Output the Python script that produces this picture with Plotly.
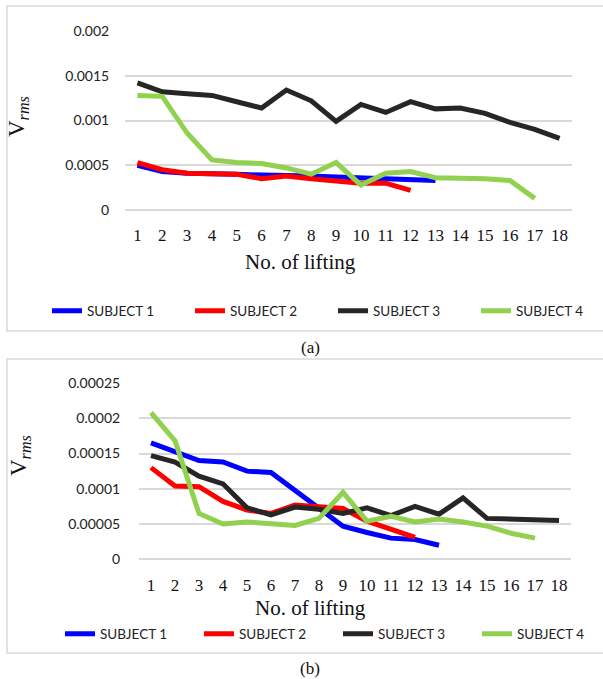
import plotly.graph_objects as go

lifts = [str(i) for i in range(1, 19)]
names = ["SUBJECT 1", "SUBJECT 2", "SUBJECT 3", "SUBJECT 4"]
colors = ["#0000FF", "#FF0000", "#262626", "#92D050"]

# Panel (a)
a_s1 = [0.00050, 0.00043, 0.00041, 0.00041, 0.00040, 0.00039, 0.00039, 0.00038, 0.00037,
        0.00036, 0.00035, 0.00035, 0.00033]
a_s2 = [0.00053, 0.00045, 0.00041, 0.00040, 0.00040, 0.00035, 0.00038, 0.00035, 0.00033,
        0.00030, 0.00030, 0.00022]
a_s3 = [0.00142, 0.00132, 0.00130, 0.00128, 0.00121, 0.00114, 0.00134, 0.00122, 0.00099,
        0.00118, 0.00109, 0.00121, 0.00113, 0.00114, 0.00108, 0.00098, 0.00090, 0.00080]
a_s4 = [0.00128, 0.00127, 0.00086, 0.00056, 0.00053, 0.00052, 0.00047, 0.00040, 0.00053,
        0.00028, 0.00041, 0.00043, 0.00036, 0.00036, 0.00035, 0.00033, 0.00013]

# Panel (b)
b_s1 = [0.000165, 0.000153, 0.000140, 0.000138, 0.000125, 0.000123, 0.000097, 0.000072,
        0.000047, 0.000038, 0.000030, 0.000028, 0.000020]
b_s2 = [0.000130, 0.000104, 0.000103, 0.000082, 0.000070, 0.000065, 0.000077, 0.000074,
        0.000072, 0.000054, 0.000043, 0.000031]
b_s3 = [0.000147, 0.000138, 0.000118, 0.000107, 0.000073, 0.000063, 0.000074, 0.000071,
        0.000065, 0.000073, 0.000062, 0.000075, 0.000064, 0.000087, 0.000058, 0.000057,
        0.000056, 0.000055]
b_s4 = [0.000208, 0.000168, 0.000065, 0.000050, 0.000053, 0.000050, 0.000048, 0.000058,
        0.000095, 0.000054, 0.000061, 0.000053, 0.000057, 0.000053, 0.000047, 0.000037,
        0.000030]

a_ticks = [0, 0.0005, 0.001, 0.0015, 0.002]
a_ticktext = ["0", "0.0005", "0.001", "0.0015", "0.002"]
b_ticks = [0, 0.00005, 0.0001, 0.00015, 0.0002, 0.00025]
b_ticktext = ["0", "0.00005", "0.0001", "0.00015", "0.0002", "0.00025"]

W, H = 603, 679
def px(v): return v / W
def py(v): return 1 - v / H

fig = go.Figure()
for nm, col, ys in zip(names, colors, [a_s1, a_s2, a_s3, a_s4]):
    fig.add_trace(go.Scatter(x=lifts[:len(ys)], y=ys, name=nm, mode="lines",
                             line=dict(color=col, width=5), xaxis="x", yaxis="y",
                             legend="legend", cliponaxis=False))
for nm, col, ys in zip(names, colors, [b_s1, b_s2, b_s3, b_s4]):
    fig.add_trace(go.Scatter(x=lifts[:len(ys)], y=ys, name=nm, mode="lines",
                             line=dict(color=col, width=5), xaxis="x2", yaxis="y2",
                             legend="legend2", cliponaxis=False))

tickfont = dict(family="Lato, Carlito, sans-serif", size=14, color="#222222")
xtickfont = dict(family="Liberation Serif, Times New Roman, serif", size=17, color="#111111")
grid = "#D9D9D9"

common_x = dict(type="category", categoryorder="array", categoryarray=lifts,
                range=[-0.5, 17.5], showgrid=False, showline=False, zeroline=False,
                tickfont=xtickfont, ticks="outside", ticklen=10, tickcolor="rgba(0,0,0,0)",
                automargin=False)

legfont = dict(family="Lato, Carlito, sans-serif", size=13.5, color="#222222")

fig.update_layout(
    width=W, height=H, margin=dict(l=0, r=0, t=0, b=0, pad=0, autoexpand=False),
    paper_bgcolor="white", plot_bgcolor="white", showlegend=True,
    xaxis=dict(domain=[px(125), px(572)], anchor="y", **common_x),
    yaxis=dict(domain=[py(210), py(31)], anchor="x", range=[0, 0.002],
               tickvals=a_ticks, ticktext=a_ticktext, showgrid=True, gridcolor=grid,
               gridwidth=1.5, zeroline=True, zerolinecolor=grid, zerolinewidth=1.5,
               showline=False, tickfont=tickfont, ticks="outside", ticklen=12,
               tickcolor="rgba(0,0,0,0)", automargin=False),
    xaxis2=dict(domain=[px(139), px(571)], anchor="y2", **common_x),
    yaxis2=dict(domain=[py(559.3), py(383)], anchor="x2", range=[0, 0.00025],
                tickvals=b_ticks, ticktext=b_ticktext, showgrid=True, gridcolor=grid,
                gridwidth=1.5, zeroline=True, zerolinecolor=grid, zerolinewidth=1.5,
                showline=False, tickfont=tickfont, ticks="outside", ticklen=15,
                tickcolor="rgba(0,0,0,0)", automargin=False),
    legend=dict(orientation="h", x=px(47), xanchor="left", y=py(311), yanchor="middle",
                font=legfont, entrywidth=98, entrywidthmode="pixels",
                bgcolor="rgba(0,0,0,0)", traceorder="normal"),
    legend2=dict(orientation="h", x=px(60), xanchor="left", y=py(634), yanchor="middle",
                 font=legfont, entrywidth=94, entrywidthmode="pixels",
                 bgcolor="rgba(0,0,0,0)", traceorder="normal"),
)

serif = "Liberation Serif, Times New Roman, serif"
ann = [
    dict(text="No. of lifting", x=px(300), y=py(262), font=dict(family=serif, size=21)),
    dict(text="No. of lifting", x=px(310), y=py(608), font=dict(family=serif, size=21)),
    dict(text="V<sub><i>rms</i></sub>", x=px(18), y=py(117), textangle=-90,
         font=dict(family=serif, size=23)),
    dict(text="V<sub><i>rms</i></sub>", x=px(20), y=py(456), textangle=-90,
         font=dict(family=serif, size=23)),
    dict(text="(a)", x=px(310), y=py(348), font=dict(family=serif, size=17)),
    dict(text="(b)", x=px(310), y=py(668), font=dict(family=serif, size=17)),
]
for a in ann:
    fig.add_annotation(xref="paper", yref="paper", showarrow=False,
                       xanchor="center", yanchor="middle", **a)
for a in fig.layout.annotations:
    a.font.color = "#111111"

fig.add_shape(type="rect", xref="paper", yref="paper", x0=px(7), x1=px(612),
              y0=py(331), y1=py(6), line=dict(color="#D9D9D9", width=1.5))
fig.add_shape(type="rect", xref="paper", yref="paper", x0=px(7), x1=px(612),
              y0=py(653), y1=py(359), line=dict(color="#D9D9D9", width=1.5))

fig.write_html("out.html", config={"displayModeBar": False},
               post_script="document.body.style.margin='0';document.body.style.overflow='hidden';")
